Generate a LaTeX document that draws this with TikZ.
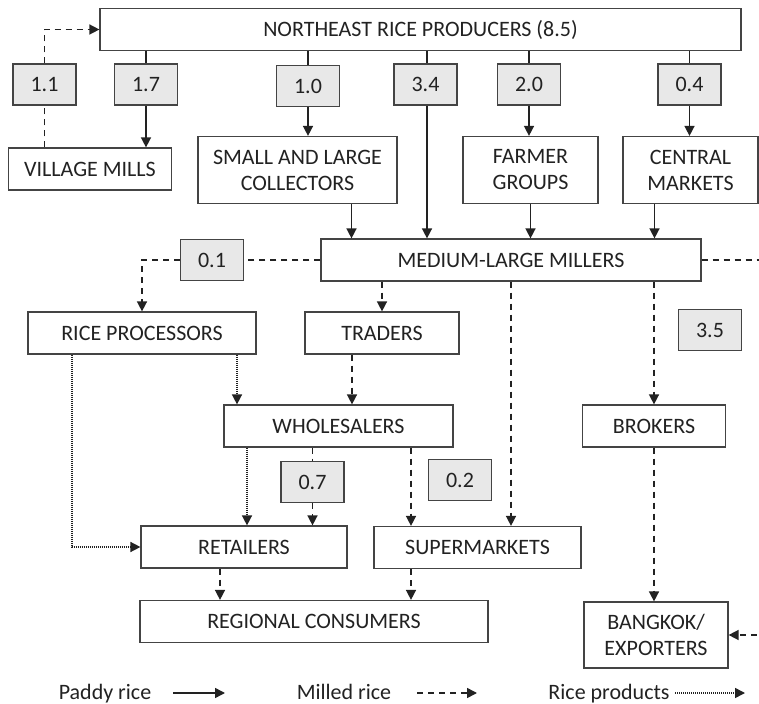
\documentclass[tikz,border=0pt]{standalone}
\usepackage{fontspec}
\setmainfont{Carlito}
\usepackage{xcolor}
\usepackage{tikz}
\usetikzlibrary{arrows.meta, positioning}

\definecolor{linegray}{HTML}{222222}
\definecolor{boxgray}{HTML}{444444}
\definecolor{valgray}{HTML}{E8E8E8}

\begin{document}
\begin{tikzpicture}[
  x=0.5pt,
  y=-0.5pt,
  font=\fontsize{11}{13}\selectfont,
  box/.style={
    draw=boxgray,
    fill=white,
    minimum height=21pt,
    inner sep=0pt,
    line width=0.6pt,
    align=center,
    text=linegray
  },
  val/.style={
    box,
    fill=valgray,
    minimum width=31.5pt,
    minimum height=20.5pt
  },
  legend/.style={
    text=linegray,
    inner sep=0pt,
    anchor=base
  },
  paddy/.style={
    -{Triangle[length=5pt, width=5pt]},
    line width=0.75pt,
    draw=linegray
  },
  milled/.style={
    paddy,
    dash pattern=on 3pt off 2.5pt
  },
  product/.style={
    paddy,
    dash pattern=on 0.5pt off 0.5pt
  }
]

\useasboundingbox (0,0) rectangle (759,704);
\clip (0,0) rectangle (759,704);

\node [box, minimum width=320.5pt] (prod) at (420.5,29.5) {NORTHEAST RICE PRODUCERS (8.5)};

\node [val] (v11) at (44.5,84.5) {1.1};
\node [val] (v17) at (146,84.5) {1.7};
\node [val] (v10) at (308,86) {1.0};
\node [val] (v34) at (425.5,84.5) {3.4};
\node [val] (v20) at (529,84.5) {2.0};
\node [val] (v04) at (689.5,84.5) {0.4};

\node [box, minimum width=81.5pt] (mills) at (90,169) {VILLAGE MILLS};
\node [box, minimum width=99.5pt, minimum height=33.5pt] (coll) at (297.5,170) {SMALL AND LARGE\\COLLECTORS};
\node [box, minimum width=67.5pt, minimum height=33.5pt] (farm) at (530.5,170) {FARMER\\GROUPS};
\node [box, minimum width=67.5pt, minimum height=33.5pt] (cent) at (690.5,170) {CENTRAL\\MARKETS};

\node [box, minimum width=190pt] (mill) at (511,260) {MEDIUM-LARGE MILLERS};
\node [val] (v01) at (212,260) {0.1};

\node [box, minimum width=114pt] (proc) at (142,333) {RICE PROCESSORS};
\node [box, minimum width=77pt] (trad) at (382,333) {TRADERS};
\node [val] (v35) at (710,330) {3.5};

\node [box, minimum width=114.5pt] (whol) at (338.5,426) {WHOLESALERS};
\node [box, minimum width=71.5pt] (brok) at (654,426) {BROKERS};

\node [val] (v07) at (312.5,482) {0.7};
\node [val] (v02) at (460,480) {0.2};

\node [box, minimum width=103pt] (ret) at (244,547) {RETAILERS};
\node [box, minimum width=103.5pt] (sup) at (477.5,547.5) {SUPERMARKETS};
\node [box, minimum width=174pt] (cons) at (314,621.5) {REGIONAL CONSUMERS};
\node [box, minimum width=72pt, minimum height=33pt] (bkk) at (656,635) {BANGKOK/\\EXPORTERS};

\draw [paddy, -] (prod.south -| v17) -- (v17);
\draw [paddy] (v17) -- (v17 |- mills.north);
\draw [paddy, -] (prod.south -| v10) -- (v10);
\draw [paddy] (v10) -- (v10 |- coll.north);
\draw [paddy, -] ([xshift=0.75pt]prod.south -| v34) -- ([xshift=0.75pt]v34.north);
\draw [paddy] ([xshift=0.75pt]v34.south) -- ([xshift=0.75pt]v34.south |- mill.north);
\draw [paddy, -] (prod.south -| v20) -- (v20);
\draw [paddy] (v20) -- (v20 |- farm.north);
\draw [paddy, -] (prod.south -| v04) -- (v04);
\draw [paddy] (v04) -- (v04 |- cent.north);

\draw [paddy] ([xshift=27pt]coll.south) -- ([xshift=27pt]coll.south |- mill.north);
\draw [paddy] (farm.south) -- (farm.south |- mill.north);
\draw [paddy] ([xshift=-18pt]cent.south) -- ([xshift=-18pt]cent.south |- mill.north);

\draw [milled, -] (mills.north -| v11) -- (v11);
\draw [milled] (v11) |- (prod.west);

\draw [milled, -] (mill.west) -- (v01);
\draw [milled] (v01) -| (proc.north);
\draw [milled] (mill.south -| trad) -- (trad.north);
\draw [milled] (mill.south) -- (mill.south |- sup.north);
\draw [milled] (mill.south -| brok) -- (brok.north);
\draw [milled] (mill.east) -- ++(60,0) |- (bkk.east);

\draw [milled] ([xshift=-15pt]trad.south) -- ([xshift=-15pt]trad.south |- whol.north);
\draw [milled, -] (whol.south -| v07) -- (v07);
\draw [milled] (v07) -- (v07 |- ret.north);
\draw [milled] ([xshift=36.25pt]whol.south) -- ([xshift=36.25pt]whol.south |- sup.north);
\draw [milled] ([xshift=-12pt]ret.south) -- ([xshift=-12pt]ret.south |- cons.north);
\draw [milled] ([xshift=-33.25pt]sup.south) -- ([xshift=-33.25pt]sup.south |- cons.north);
\draw [milled] (brok.south) -- (brok.south |- bkk.north);

\draw [product] ([xshift=47.5pt]proc.south) -- ([xshift=47.5pt]proc.south |- whol.north);
\draw [product] ([xshift=-35pt]proc.south) |- (ret.west);
\draw [product] ([xshift=-45.75pt]whol.south) -- ([xshift=-45.75pt]whol.south |- ret.north);

\node [legend] (lpaddy) at (105,699) {Paddy rice};
\node [legend] (lmilled) at (344,699) {Milled rice};
\node [legend] (lproduct) at (609,699) {Rice products};

\coordinate (lp1) at (173,693);
\coordinate (lp2) at (225,693);
\coordinate (lm1) at (417,693);
\coordinate (lm2) at (477,693);
\coordinate (lr1) at (675,693);
\coordinate (lr2) at (745,693);

\draw [paddy] (lp1) -- (lp2);
\draw [milled] (lm1) -- (lm2);
\draw [product] (lr1) -- (lr2);

\end{tikzpicture}
\end{document}
